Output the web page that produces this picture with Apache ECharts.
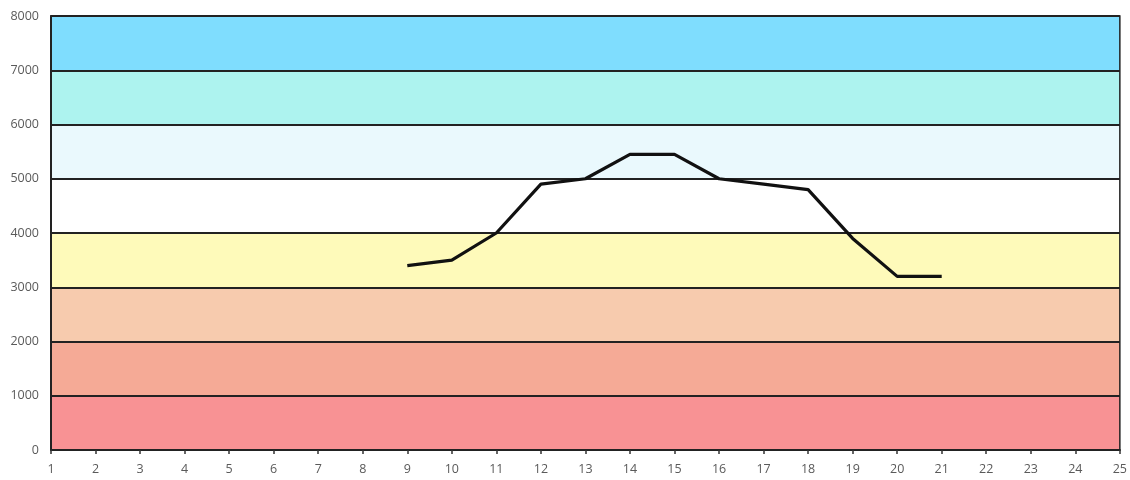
<!DOCTYPE html>
<html>
<head>
<meta charset="utf-8">
<script src="https://cdn.jsdelivr.net/npm/echarts@6/dist/echarts.min.js"></script>
<style>
  html, body { margin: 0; padding: 0; background: #fff; }
  #chart { width: 1130px; height: 480px; }
</style>
</head>
<body>
<div id="chart"></div>
<script>
// Hourly readings
const hours = [9, 10, 11, 12, 13, 14, 15, 16, 17, 18, 19, 20, 21];
const values = [3400, 3500, 4000, 4900, 5000, 5450, 5450, 5000, 4900, 4800, 3900, 3200, 3200];

// Background zones (lower bound, upper bound)
const bandLower = [0, 1000, 2000, 3000, 4000, 5000, 6000, 7000];
const bandUpper = [1000, 2000, 3000, 4000, 5000, 6000, 7000, 8000];
const bandColors = ['#F89294', '#F5AA96', '#F7CBAE', '#FEFABA', '#FFFFFF', '#EAF9FD', '#ADF3EF', '#7FDDFE'];

const xMin = 1, xMax = 25;
const yMin = 0, yMax = 8000, yStep = 1000;

const chart = echarts.init(document.getElementById('chart'));

// Zone fills live in their own empty series so they sit beneath the axes' split lines
const bandAreas = bandLower.map((lo, i) => [
  { yAxis: lo, itemStyle: { color: bandColors[i], opacity: 1 } },
  { yAxis: bandUpper[i] }
]);

const labelStyle = { color: '#5a5a5a', fontSize: 12.5, fontFamily: 'Open Sans' };

chart.setOption({
  animation: false,
  backgroundColor: '#fff',
  grid: {
    left: 51, right: 9, top: 16, bottom: 30,
    show: true, borderColor: '#222', borderWidth: 1.5, backgroundColor: 'transparent', z: 10
  },
  xAxis: {
    type: 'value',
    min: xMin, max: xMax, interval: 1,
    z: 10,
    axisLine: { show: true, lineStyle: { color: '#222', width: 2 } },
    axisTick: { show: true, length: 4, lineStyle: { color: '#333', width: 1.5 } },
    axisLabel: Object.assign({ margin: 13 }, labelStyle),
    splitLine: { show: false }
  },
  yAxis: {
    type: 'value',
    min: yMin, max: yMax, interval: yStep,
    z: 10,
    axisLine: { show: true, lineStyle: { color: '#222', width: 2 } },
    axisTick: { show: false },
    axisLabel: Object.assign({ margin: 12, formatter: v => String(v) }, labelStyle),
    splitLine: { show: true, lineStyle: { color: '#222', width: 1.8 } }
  },
  series: [{
    type: 'line',
    data: [],
    z: 1,
    silent: true,
    markArea: { silent: true, data: bandAreas }
  }, {
    type: 'line',
    data: hours.map((h, i) => [h, values[i]]),
    symbol: 'none',
    lineStyle: { color: '#111', width: 3.2 },
    z: 20
  }]
});
</script>
</body>
</html>
